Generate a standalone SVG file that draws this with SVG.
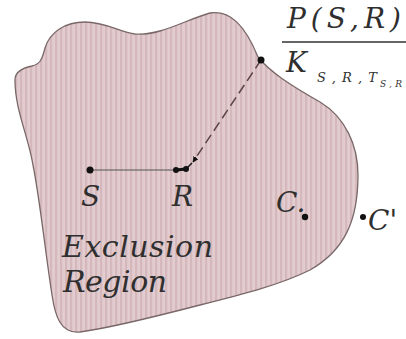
<svg xmlns="http://www.w3.org/2000/svg" width="406" height="339" viewBox="0 0 406 339">
<style>
.dot{fill:#111}
text{font-family:'DejaVu Serif',serif;font-style:italic;fill:#2f2f2f}
</style>
<defs>
<pattern id="stripes" width="5" height="10" patternUnits="userSpaceOnUse">
<rect width="5" height="10" fill="#e2cccf"/>
<rect x="0" width="2.2" height="10" fill="#d4b8bc"/>
</pattern>
<marker id="arr" viewBox="0 0 10 10" refX="9" refY="5" markerWidth="4" markerHeight="4" orient="auto" markerUnits="strokeWidth">
<path d="M0,0 L10,5 L0,10 Z" fill="#111"/>
</marker>
</defs>
<rect width="406" height="339" fill="#ffffff"/>
<g id="region">
<path d="M15,80 C15,72 22,68 32,66 C40,64 42,60 45,48 C50,32 65,22 85,22 C105,22 120,32 135,34 C160,36 185,20 210,13 C230,10 245,25 258,57 C270,72 290,85 320,102 C345,117 358,145 358,175 C358,220 345,250 310,270 C280,285 240,295 200,305 C150,318 110,328 80,332 C60,334 55,315 52,295 C45,250 40,200 33,165 C28,135 15,110 15,80 Z" fill="url(#stripes)" stroke="#7a6868" stroke-width="1.3"/>
</g>
<g id="connectors">
<line x1="90" y1="170" x2="176" y2="170" stroke="#555" stroke-width="1.2"/>
<line x1="176" y1="170" x2="186" y2="169" stroke="#111" stroke-width="3"/>
<line x1="186" y1="169" x2="192" y2="163" stroke="#111" stroke-width="1.5"/>
<line x1="261" y1="60" x2="193" y2="162" stroke="#5a4444" stroke-width="1.5" stroke-dasharray="10,5" marker-end="url(#arr)"/>
</g>
<g id="S"><circle class="dot" cx="90" cy="170" r="3.5"/><text x="81" y="206" font-size="28">S</text></g>
<g id="R"><circle class="dot" cx="176" cy="170" r="3"/><circle class="dot" cx="186" cy="169" r="3"/><text x="172" y="206" font-size="28">R</text></g>
<g id="P"><circle class="dot" cx="261" cy="60" r="3.5"/></g>
<g id="C"><circle class="dot" cx="305" cy="217" r="3.2"/><text x="276" y="212" font-size="28">C.</text></g>
<g id="Cprime"><circle class="dot" cx="363" cy="217" r="3"/><text x="368" y="230" font-size="28">C'</text></g>
<g id="fraction">
<text x="287" y="28" font-size="28" textLength="114" lengthAdjust="spacing">P(S,R)</text>
<line x1="282" y1="42" x2="406" y2="42" stroke="#333" stroke-width="1.6"/>
<text x="286" y="72" font-size="28">K</text>
<text x="317" y="82" font-size="13" textLength="60" lengthAdjust="spacing">S,R,T</text>
<text x="380" y="87" font-size="9" textLength="22" lengthAdjust="spacing">S,R</text>
</g>
<g id="label">
<text x="62" y="257" font-size="30" textLength="151" lengthAdjust="spacing">Exclusion</text>
<text x="63" y="292" font-size="30" textLength="104" lengthAdjust="spacing">Region</text>
</g>
</svg>
